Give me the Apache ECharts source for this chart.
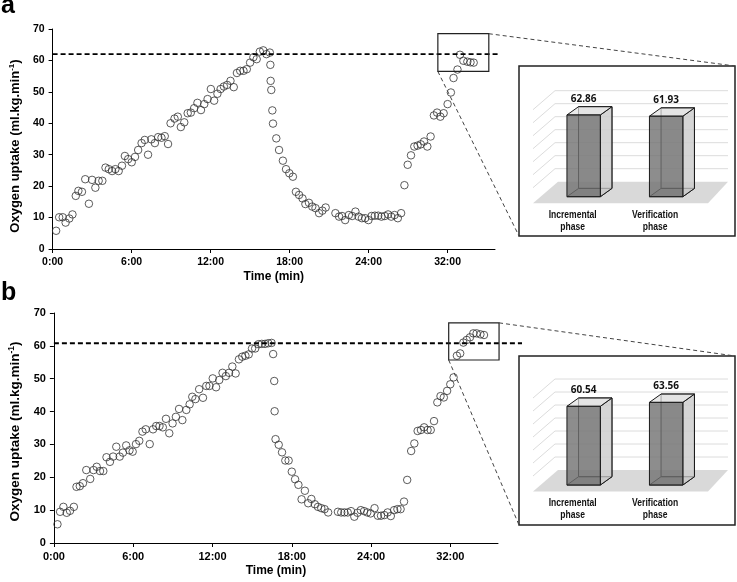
<!DOCTYPE html>
<html><head><meta charset="utf-8">
<script src="https://cdn.jsdelivr.net/npm/echarts@6/dist/echarts.min.js"></script>
<style>html,body{margin:0;padding:0;background:#fff}#c{width:737px;height:582px}</style>
</head><body><div id="c"></div>
<script>
// ---------- data ----------
const timeA = [0.27,0.5,0.77,0.99,1.27,1.51,1.76,1.96,2.23,2.48,2.76,3.0,3.25,3.5,3.78,4.02,4.27,4.52,4.77,5.02,5.27,5.49,5.74,6.01,6.26,6.5,6.76,7.0,7.25,7.5,7.77,8.02,8.27,8.52,8.77,8.96,9.26,9.51,9.74,10.0,10.26,10.5,10.75,11.0,11.27,11.52,11.77,12.02,12.27,12.52,12.76,13.01,13.26,13.51,13.76,14.0,14.25,14.5,14.75,15.0,15.25,15.5,15.74,16.0,16.24,16.5,16.54,16.56,16.61,16.69,16.74,16.99,17.2,17.49,17.73,17.98,18.25,18.48,18.72,18.98,19.2,19.47,19.72,19.97,20.24,20.49,20.74,21.48,21.76,21.98,22.22,22.5,22.75,23.0,23.24,23.49,23.74,23.99,24.23,24.48,24.73,24.98,25.23,25.48,25.72,25.97,26.22,26.47,26.72,26.97,27.22,27.47,27.72,27.96,28.21,28.46,28.71,28.96,29.2,29.45,29.7,30.0,30.25,30.45,30.75,30.94,31.2,31.5,31.74,31.98];
const vo2A = [5.8,10.1,10.1,8.4,9.7,11.0,16.9,18.5,18.2,22.2,14.4,22.0,19.5,21.7,21.7,25.9,25.4,24.8,25.4,24.8,26.5,29.6,28.6,27.6,29.3,31.5,33.7,34.7,30.0,34.9,33.7,35.6,35.4,35.9,33.4,40.0,41.5,42.1,38.8,40.3,43.2,43.4,44.8,46.5,44.2,46.1,47.7,50.9,47.2,49.4,50.9,51.7,52.2,53.5,51.5,56.0,56.7,56.7,57.2,59.3,61.0,60.4,62.8,63.2,62.0,62.5,58.6,53.5,50.6,44.1,39.9,35.2,31.5,28.1,25.4,24.1,23.0,18.2,17.2,16.1,14.3,14.7,13.5,13.0,11.4,12.2,13.2,11.4,10.3,10.5,9.2,10.8,10.5,11.9,10.3,9.8,9.8,9.2,10.5,10.6,10.6,10.3,10.5,11.0,10.3,10.8,9.8,11.4,20.3,26.8,29.8,32.6,32.9,33.3,34.2,32.6,35.8,42.5,43.4,42.1,43.2,46.1,49.8,54.4,57.1,61.8,59.9,59.6,59.4,59.3];
const timeB = [0.27,0.47,0.72,0.97,1.22,1.51,1.71,1.96,2.2,2.45,2.75,3.0,3.24,3.49,3.74,3.98,4.24,4.48,4.72,4.98,5.22,5.47,5.72,5.96,6.21,6.46,6.7,6.95,7.25,7.5,7.74,7.99,8.24,8.48,8.73,8.98,9.23,9.47,9.72,10.02,10.27,10.47,10.71,10.99,11.28,11.53,11.77,12.02,12.27,12.51,12.76,13.01,13.25,13.5,13.75,14.0,14.25,14.49,14.74,14.99,15.23,15.48,15.73,15.98,16.22,16.47,16.59,16.67,16.7,16.77,17.01,17.26,17.51,17.76,18.0,18.25,18.5,18.74,18.99,19.24,19.48,19.74,19.98,20.23,20.48,20.75,21.49,21.74,21.98,22.23,22.48,22.73,22.97,23.22,23.47,23.71,23.96,24.26,24.51,24.75,25.0,25.25,25.49,25.74,25.99,26.23,26.49,26.73,27.03,27.27,27.52,27.77,28.01,28.27,28.51,28.76,29.01,29.25,29.5,29.75,29.99,30.24,30.49,30.74,30.98,31.23,31.48,31.73,31.98,32.27,32.54];
const vo2B = [5.7,9.5,11.0,9.2,9.8,11.0,17.1,17.3,18.2,22.2,19.5,22.2,23.2,21.9,21.9,26.1,24.7,26.3,29.3,26.3,27.5,29.7,28.2,27.8,30.1,31.1,33.9,34.6,30.1,34.6,35.6,35.6,35.2,37.8,33.4,36.4,38.4,40.8,37.4,40.5,42.2,44.5,43.8,46.8,44.2,47.8,47.8,50.1,47.4,49.6,51.8,50.8,51.8,53.7,51.6,55.9,56.7,57.0,57.4,59.2,59.2,60.5,60.6,60.6,60.8,60.9,57.5,49.3,40.1,31.6,29.9,27.6,25.1,25.1,21.7,19.4,17.7,13.3,15.9,12.1,13.4,11.8,11.0,10.6,10.3,9.3,9.5,9.3,9.3,9.3,9.7,8.0,9.2,10.0,9.7,9.3,9.0,10.6,8.3,8.3,8.5,9.3,8.2,10.0,10.3,10.3,12.6,19.2,28.0,30.3,34.1,34.4,35.2,34.4,34.4,37.1,42.8,44.7,44.3,46.3,48.3,50.4,57.0,57.7,61.0,61.8,62.6,63.8,63.8,63.5,63.3];
const xTickValues = [0, 6, 12, 18, 24, 30];
const xTickLabels = ['0:00', '6:00', '12:00', '18:00', '24:00', '32:00'];
const insetCategories = ['Incremental\nphase', 'Verification\nphase'];
const peakA = [62.86, 61.93];
const peakB = [60.54, 63.56];
const dashedLevel = [62.0, 60.8];
const zoomBoxA = [29.26, 33.13, 56.5, 68.5];   // t0, t1, v0, v1
const zoomBoxB = [29.87, 33.68, 55.7, 67.0];
const insetWallValues = [0, 10, 20, 30, 40, 50, 60, 70];

// ---------- chart ----------
const FF = '"Liberation Sans", Arial, sans-serif';
const chart = echarts.init(document.getElementById('c'), null, {renderer: 'canvas'});

function mainX(gi, fs) {
  return {
    type: 'value', gridIndex: gi, min: 0, max: 33.6,
    axisLine: {show: true, onZero: false, lineStyle: {color: '#000', width: 1}},
    axisTick: {show: true, customValues: xTickValues, length: 4, lineStyle: {color: '#000'}},
    axisLabel: {show: true, customValues: xTickValues, margin: 8,
      formatter: v => { const i = xTickValues.indexOf(v); return i >= 0 ? xTickLabels[i] : ''; },
      fontFamily: FF, fontWeight: 'bold', fontSize: fs, color: '#000'},
    splitLine: {show: false},
    name: 'Time (min)', nameLocation: 'middle', nameGap: 22,
    nameTextStyle: {fontFamily: FF, fontWeight: 'bold', fontSize: 12, color: '#000'}
  };
}
function mainY(gi, fs, tfs, pad) {
  return {
    type: 'value', gridIndex: gi, min: 0, max: 70, interval: 10,
    axisLine: {show: true, onZero: false, lineStyle: {color: '#000', width: 1}},
    axisTick: {show: true, length: 4, lineStyle: {color: '#000'}},
    axisLabel: {show: true, margin: 8, fontFamily: FF, fontWeight: 'bold', fontSize: fs, color: '#000'},
    splitLine: {show: false},
    name: '{t|Oxygen uptake (ml.kg.min}{s|-1}{t|)}', nameLocation: 'middle', nameGap: 25,
    nameTextStyle: {padding: [0, pad, 0, 0], rich: {
      t: {fontFamily: FF, fontWeight: 'bold', fontSize: tfs, color: '#000', lineHeight: tfs + 2},
      s: {fontFamily: FF, fontWeight: 'bold', fontSize: tfs * 0.62, color: '#000', verticalAlign: 'top', lineHeight: tfs * 0.62}
    }}
  };
}
function insetX(gi) { return {type: 'category', gridIndex: gi, data: insetCategories, show: false}; }
function insetY(gi) { return {type: 'value', gridIndex: gi, min: 0, max: 70, interval: 10, show: false}; }

function scatterSeries(i, t, v) {
  return {
    type: 'scatter', xAxisIndex: i, yAxisIndex: i, clip: false,
    data: t.map((x, k) => [x, v[k]]),
    symbol: 'circle', symbolSize: 7.5,
    itemStyle: {color: 'rgba(255,255,255,0)', borderColor: '#333', borderWidth: 1},
    emphasis: {disabled: true}, silent: true, z: 3
  };
}

function renderWall(params, api) {
  const v = api.value(1);
  const p = api.coord([0, v]);
  const cs = params.coordSys;
  const x0 = cs.x, x1 = cs.x + cs.width, y = p[1];
  if (v === 0) {
    return {type: 'polygon', shape: {points: [[x0 + 4, y], [x1 + 9, y], [x1 - 11, y + 21.6], [x0 - 21, y + 21.6]]},
      style: {fill: '#d9d9d9', stroke: 'none'}};
  }
  return {type: 'group', children: [
    {type: 'line', shape: {x1: x0 + 1, y1: y, x2: x1 + 9, y2: y}, style: {stroke: '#dcdcdc', lineWidth: 1}},
    {type: 'line', shape: {x1: x0 + 1, y1: y, x2: x0 - 21, y2: y + 19}, style: {stroke: '#dcdcdc', lineWidth: 1}}
  ]};
}

function renderBar(params, api) {
  const idx = api.value(0), val = api.value(1);
  const base = api.coord([idx, 0]), top = api.coord([idx, val]);
  const cx = base[0];
  const hw = 16.7, dx = 11.6, dy = 8.3, sink = 6.7;
  const bxl = cx - hw, bxr = cx + hw, byb = base[1] + sink, byt = top[1] + sink;
  const fxl = bxl - dx, fxr = bxr - dx, fyb = byb + dy, fyt = byt + dy;
  const k = '#1a1a1a';
  const y0 = base[1];
  return {type: 'group', children: [
    {type: 'rect', shape: {x: bxl, y: byt, width: bxr - bxl, height: byb - byt}, style: {fill: 'rgba(200,200,200,0.35)', stroke: k, lineWidth: 1}},
    {type: 'polygon', shape: {points: [[fxl, fyb], [bxl, byb], [bxr, byb], [fxr, fyb]]}, style: {fill: 'rgba(150,150,150,0.3)', stroke: k, lineWidth: 1}},
    {type: 'polygon', shape: {points: [[fxr, fyt], [bxr, byt], [bxr, byb], [fxr, fyb]]}, style: {fill: 'rgba(205,205,205,0.75)', stroke: k, lineWidth: 1}},
    {type: 'polygon', shape: {points: [[fxl, fyt], [bxl, byt], [bxr, byt], [fxr, fyt]]}, style: {fill: 'rgba(225,225,225,0.7)', stroke: k, lineWidth: 1}},
    {type: 'rect', shape: {x: fxl, y: fyt, width: fxr - fxl, height: fyb - fyt}, style: {fill: 'rgba(112,112,112,0.8)', stroke: k, lineWidth: 1}},
    {type: 'text', x: (fxl + fxr) / 2, y: byt - 8, style: {text: val.toFixed(2), fontFamily: '"Open Sans", sans-serif', fontWeight: 'bold', fontSize: 10, fill: '#111', align: 'center', verticalAlign: 'middle'}},
    {type: 'text', x: (fxl + fxr) / 2 - 11, y: y0 + 39.2, scaleX: 0.84,
      style: {text: insetCategories[idx], fontFamily: FF, fontWeight: 'bold', fontSize: 10.2, lineHeight: 12, fill: '#111', align: 'center', verticalAlign: 'middle'}}
  ]};
}

function wallSeries(i) {
  return {type: 'custom', xAxisIndex: i, yAxisIndex: i, data: insetWallValues.map(v => [0, v]), renderItem: renderWall, silent: true, clip: false, z: 1};
}
function barSeries(i, vals) {
  return {type: 'custom', xAxisIndex: i, yAxisIndex: i, data: vals.map((v, k) => [k, v]), renderItem: renderBar, silent: true, clip: false, z: 2};
}

const option = {
  animation: false,
  backgroundColor: '#fff',
  textStyle: {fontFamily: FF},
  grid: [
    {left: 44, top: 29, width: 451, height: 220},
    {left: 45, top: 313, width: 453, height: 230},
    {left: 554, top: 90.7, width: 165, height: 91},
    {left: 554, top: 379, width: 165, height: 91}
  ],
  xAxis: [mainX(0, 10.5), mainX(1, 11), insetX(2), insetX(3)],
  yAxis: [mainY(0, 10.5, 13, 14), mainY(1, 11, 13.5, 7), insetY(2), insetY(3)],
  series: [
    scatterSeries(0, timeA, vo2A), scatterSeries(1, timeB, vo2B),
    wallSeries(2), barSeries(2, peakA),
    wallSeries(3), barSeries(3, peakB)
  ]
};
chart.setOption(option);

// ---------- annotations positioned through the axes ----------
function px(i, x, y) { return chart.convertToPixel({xAxisIndex: i, yAxisIndex: i}, [x, y]); }
const panels = [
  {i: 0, box: zoomBoxA, lvl: dashedLevel[0], lineEnd: 498, inset: {x: 519, y: 66, w: 216, h: 170}, letter: 'a', ly: 6.5},
  {i: 1, box: zoomBoxB, lvl: dashedLevel[1], lineEnd: 522, inset: {x: 519, y: 356, w: 216, h: 169}, letter: 'b', ly: 293}
];
const g = [];
panels.forEach(p => {
  const l0 = px(p.i, 0, p.lvl);
  g.push({type: 'line', z: 10, shape: {x1: l0[0], y1: l0[1], x2: p.lineEnd, y2: l0[1]}, style: {stroke: '#000', lineWidth: 1.8, lineDash: [5, 3]}});
  const a = px(p.i, p.box[0], p.box[3]);
  const b = px(p.i, p.box[1], p.box[2]);
  g.push({type: 'rect', z: 10, shape: {x: a[0], y: a[1], width: b[0] - a[0], height: b[1] - a[1]}, style: {fill: 'none', stroke: '#222', lineWidth: 1.2}});
  const r = p.inset;
  g.push({type: 'rect', z: 10, shape: {x: r.x, y: r.y, width: r.w, height: r.h}, style: {fill: 'none', stroke: '#222', lineWidth: 1.5}});
  g.push({type: 'line', z: 10, shape: {x1: b[0], y1: a[1], x2: r.x + r.w, y2: r.y}, style: {stroke: '#444', lineWidth: 1, lineDash: [4, 3]}});
  g.push({type: 'line', z: 10, shape: {x1: a[0], y1: b[1], x2: r.x, y2: r.y + r.h}, style: {stroke: '#444', lineWidth: 1, lineDash: [4, 3]}});
  g.push({type: 'text', z: 10, x: 1, y: p.ly, style: {text: p.letter, fontFamily: FF, fontWeight: 'bold', fontSize: 25, fill: '#000', align: 'left', verticalAlign: 'middle'}});
});
chart.setOption({graphic: g});
</script>
</body></html>
